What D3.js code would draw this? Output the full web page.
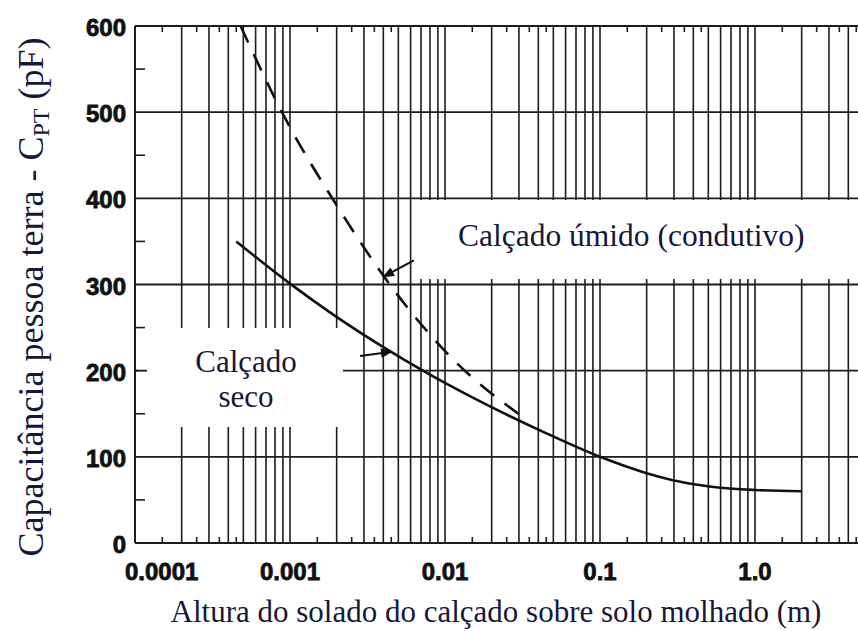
<!DOCTYPE html>
<html><head><meta charset="utf-8">
<script src="https://cdn.jsdelivr.net/npm/d3@7"></script>
<style>body{margin:0;background:#fff}svg{display:block}</style>
</head><body><svg id="c" width="858" height="631"></svg>
<script>
// ---- data ----
const xTickValues = [0.0001, 0.001, 0.01, 0.1, 1];
const xTickLabels = ["0.0001", "0.001", "0.01", "0.1", "1.0"];
const yTickValues = [0, 100, 200, 300, 400, 500, 600];
const yTickLabels = ["0", "100", "200", "300", "400", "500", "600"];
const dryX = [0.00045, 0.001, 0.0018, 0.0042, 0.0072, 0.015, 0.043, 0.1, 0.2, 0.33, 0.54, 1.0, 2.0];
const dryY = [350, 301, 268, 225, 200, 169, 129, 100, 81, 71, 65, 61.5, 60];
const wetX = [0.00048, 0.00093, 0.002, 0.00453, 0.011, 0.0337];
const wetY = [600, 493, 392, 297, 215, 143];
const xTitle = "Altura do solado do calçado sobre solo molhado (m)";
const yTitleMain = "Capacitância pessoa terra - C";
const yTitleSub = "PT";
const yTitleEnd = " (pF)";
const wetLabel = "Calçado úmido (condutivo)";
const dryLabel = ["Calçado", "seco"];
// annotation arrows [tailX, tailY, headX, headY] in data units
const wetArrow = [0.0063, 328, 0.0040, 309];
const dryArrow = [0.00283, 217, 0.00453, 222];

// ---- scales ----
const svg = d3.select("#c");
const x = d3.scaleLog().domain([1e-4, 10]).range([135, 910]);
const y = d3.scaleLinear().domain([0, 600]).range([543, 26]);
const ink = "#1c1c1c";
const textInk = "#17173a";

// vertical log grid
const vLines = [];
for (let e = -4; e <= 0; e++) for (let m = 1; m <= 9; m++) vLines.push(m * Math.pow(10, e));
vLines.push(10);
svg.append("g").selectAll("line").data(vLines).join("line")
  .attr("x1", d => x(d)).attr("x2", d => x(d))
  .attr("y1", y(0)).attr("y2", y(600))
  .attr("stroke", ink).attr("stroke-width", 1.6);
// horizontal grid
svg.append("g").selectAll("line").data(yTickValues).join("line")
  .attr("x1", x(1e-4)).attr("x2", 858)
  .attr("y1", d => y(d)).attr("y2", d => y(d))
  .attr("stroke", ink).attr("stroke-width", 1.8);

// half ticks top / bottom
const halfTicks = [];
for (let e = -4; e <= 0; e++) for (const m of [1.5, 2.5, 3.5, 4.5]) halfTicks.push(m * Math.pow(10, e));
svg.append("g").selectAll("line").data(halfTicks).join("line")
  .attr("x1", d => x(d)).attr("x2", d => x(d)).attr("y1", y(600)).attr("y2", y(600) + 6)
  .attr("stroke", ink).attr("stroke-width", 1.6);
svg.append("g").selectAll("line").data(halfTicks).join("line")
  .attr("x1", d => x(d)).attr("x2", d => x(d)).attr("y1", y(0)).attr("y2", y(0) - 6)
  .attr("stroke", ink).attr("stroke-width", 1.6);

// white label boxes (cover the grid)
svg.append("rect").attr("x", 413).attr("y", 200).attr("width", 460).attr("height", 79).attr("fill", "#fff");
svg.append("rect").attr("x", 138).attr("y", 328).attr("width", 205).attr("height", 99).attr("fill", "#fff");

// left minor ticks
const yMinor = d3.range(50, 600, 100);
svg.append("g").selectAll("line").data(yMinor).join("line")
  .attr("x1", x(1e-4)).attr("x2", x(1e-4) + 10)
  .attr("y1", d => y(d)).attr("y2", d => y(d))
  .attr("stroke", ink).attr("stroke-width", 1.6);
// stub of 200 line
svg.append("line").attr("x1", x(1e-4)).attr("x2", x(1e-4) + 12).attr("y1", y(200)).attr("y2", y(200)).attr("stroke", ink).attr("stroke-width", 1.8);

// frame
svg.append("line").attr("x1", x(1e-4)).attr("x2", x(1e-4)).attr("y1", y(0)).attr("y2", y(600)).attr("stroke", ink).attr("stroke-width", 2);
svg.append("line").attr("x1", x(1e-4)).attr("x2", 858).attr("y1", y(600)).attr("y2", y(600)).attr("stroke", ink).attr("stroke-width", 2);
svg.append("line").attr("x1", x(1e-4)).attr("x2", 858).attr("y1", y(0)).attr("y2", y(0)).attr("stroke", ink).attr("stroke-width", 2);

// curves
const line = d3.line().x(d => x(d[0])).y(d => y(d[1])).curve(d3.curveMonotoneX);
svg.append("path").datum(dryX.map((v, i) => [v, dryY[i]])).attr("d", line)
  .attr("fill", "none").attr("stroke", "#111").attr("stroke-width", 2.6);
svg.append("path").datum(wetX.map((v, i) => [v, wetY[i]])).attr("d", line)
  .attr("fill", "none").attr("stroke", "#111").attr("stroke-width", 2.6).attr("stroke-dasharray", "18,13");

// arrows
const defs = svg.append("defs");
defs.append("marker").attr("id", "ah").attr("viewBox", "0 0 10 10").attr("refX", 9).attr("refY", 5)
  .attr("markerWidth", 6).attr("markerHeight", 6).attr("orient", "auto").attr("markerUnits", "strokeWidth")
  .append("path").attr("d", "M0,1 L10,5 L0,9 Z").attr("fill", "#111");
for (const a of [wetArrow, dryArrow]) {
  svg.append("line").attr("x1", x(a[0])).attr("y1", y(a[1])).attr("x2", x(a[2])).attr("y2", y(a[3]))
    .attr("stroke", "#111").attr("stroke-width", 2).attr("marker-end", "url(#ah)");
}

// tick labels
svg.append("g").selectAll("text").data(yTickValues).join("text")
  .attr("x", 126).attr("y", d => y(d) + 10).attr("text-anchor", "end")
  .attr("font-family", "Liberation Sans, Arial, sans-serif").attr("font-weight", "bold").attr("font-size", 24)
  .attr("fill", "#111").attr("stroke", "#111").attr("stroke-width", 0.8)
  .text((d, i) => yTickLabels[i]);
svg.append("g").selectAll("text").data(xTickValues).join("text")
  .attr("x", (d, i) => i === 0 ? x(d) - 10 : x(d)).attr("y", 580)
  .attr("text-anchor", (d, i) => i === 0 ? "start" : "middle")
  .attr("font-family", "Liberation Sans, Arial, sans-serif").attr("font-weight", "bold").attr("font-size", 24)
  .attr("fill", "#111").attr("stroke", "#111").attr("stroke-width", 0.8)
  .text((d, i) => xTickLabels[i]);

// titles
const serif = "Liberation Serif, Times New Roman, serif";
svg.append("text").attr("x", 496).attr("y", 622).attr("text-anchor", "middle")
  .attr("font-family", serif).attr("font-size", 31).attr("fill", textInk).text(xTitle);
const yt = svg.append("text").attr("transform", "translate(43,297) rotate(-90)").attr("text-anchor", "middle")
  .attr("font-family", serif).attr("font-size", 36).attr("fill", textInk);
yt.append("tspan").text(yTitleMain);
yt.append("tspan").attr("font-size", 24).attr("dy", 6).text(yTitleSub);
yt.append("tspan").attr("dy", -6).text(yTitleEnd);

// annotation labels
svg.append("text").attr("x", 458).attr("y", 246).attr("font-family", serif).attr("font-size", 31.5)
  .attr("fill", textInk).text(wetLabel);
const dl = svg.append("text").attr("font-family", serif).attr("font-size", 31).attr("fill", textInk).attr("text-anchor", "middle");
dl.append("tspan").attr("x", 246).attr("y", 372).text(dryLabel[0]);
dl.append("tspan").attr("x", 246).attr("y", 407).text(dryLabel[1]);
</script>
</body></html>
